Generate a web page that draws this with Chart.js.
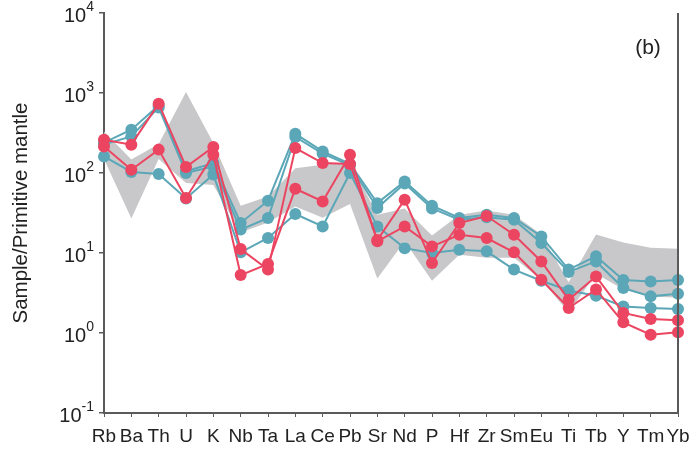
<!DOCTYPE html>
<html>
<head>
<meta charset="utf-8">
<script src="https://cdn.jsdelivr.net/npm/chart.js@4"></script>
<style>
html,body{margin:0;padding:0;background:#fff;}
#wrap{width:694px;height:455px;position:relative;}
</style>
</head>
<body>
<div id="wrap"><canvas id="c" width="694" height="455"></canvas></div>
<script>
const categories = ['Rb','Ba','Th','U','K','Nb','Ta','La','Ce','Pb','Sr','Nd','P','Hf','Zr','Sm','Eu','Ti','Tb','Y','Tm','Yb'];
const tealA = [240, 348, 700, 105, 133, 23.7, 45, 309, 186, 130, 42, 78.5, 39, 27.4, 30, 27.4, 16.1, 6.2, 9.1, 4.6, 4.4, 4.6];
const tealB = [228, 287, 660, 100, 121, 19.6, 27.4, 282, 175, 125, 36.5, 74, 36, 26, 28, 26, 13.3, 5.8, 7.85, 3.65, 2.87, 3.1];
const tealC = [161, 103, 97, 48, 95.5, 10.2, 15.4, 30.7, 21.5, 100, 21.5, 11.5, 10, 11, 10.5, 6.2, 4.5, 3.4, 2.92, 2.15, 2.05, 2.0];
const redA = [261, 226, 735, 119, 212, 11.2, 6.2, 205, 133, 130, 14.5, 46.4, 7.5, 23.7, 29, 16.9, 7.85, 2.6, 5.1, 1.78, 1.5, 1.44];
const redB = [215, 110, 196, 48.7, 169, 5.3, 7.3, 63.6, 44, 169, 14, 21.5, 12.1, 16.9, 15.4, 10.2, 4.64, 2.05, 3.5, 1.36, 0.95, 1.02];
const envelopeUpper = [330, 148, 230, 1030, 237, 39, 51, 115, 127, 137, 30, 36, 16.5, 30, 34, 30, 17, 4.3, 17, 13.5, 11.6, 11.3];
const envelopeLower = [150, 27, 150, 75, 71, 18, 24, 38, 27.5, 41, 4.8, 14, 4.5, 9.5, 8.7, 8.7, 4.6, 1.8, 5.5, 3.5, 2.85, 2.75];
const yTicks = [0.1, 1, 10, 100, 1000, 10000];
const yTitle = 'Sample/Primitive mantle';
const panelLabel = '(b)';

const TEAL = '#5ba7b8';
const RED = '#ec4561';
const GRAY = '#c8c8ca';
const AXIS = '#5a5a5a';
const FONT = '"Liberation Sans", Arial, sans-serif';

function lineDs(data, color, order) {
  return {
    data: data, borderColor: color, backgroundColor: color,
    borderWidth: 2, pointRadius: 6, pointHoverRadius: 6,
    pointBorderWidth: 0, pointBackgroundColor: color,
    fill: false, tension: 0, order: order
  };
}

const decor = {
  id: 'decor',
  afterDraw(chart) {
    const ctx = chart.ctx;
    const ca = chart.chartArea;
    const ys = chart.scales.y;
    ctx.save();
    ctx.strokeStyle = AXIS;
    ctx.lineWidth = 2;
    ctx.beginPath();
    ctx.moveTo(ca.right, ca.top);
    ctx.lineTo(ca.right, ca.bottom);
    ctx.stroke();
    ctx.fillStyle = '#222';
    ctx.textBaseline = 'middle';
    yTicks.forEach(v => {
      const y = ys.getPixelForValue(v);
      const exp = String(Math.round(Math.log10(v)));
      ctx.font = '14px ' + FONT;
      const ew = ctx.measureText(exp).width;
      const xr = ca.left - 10;
      ctx.textAlign = 'left';
      ctx.fillText(exp, xr - ew, y - 6);
      ctx.font = '20px ' + FONT;
      ctx.textAlign = 'right';
      ctx.fillText('10', xr - ew, y + 3);
    });
    ctx.save();
    ctx.translate(21, (ca.top + ca.bottom) / 2);
    ctx.rotate(-Math.PI / 2);
    ctx.textAlign = 'center';
    ctx.textBaseline = 'middle';
    ctx.font = '20.5px ' + FONT;
    ctx.fillText(yTitle, 0, 0);
    ctx.restore();
    ctx.font = '21px ' + FONT;
    ctx.textAlign = 'center';
    ctx.textBaseline = 'middle';
    ctx.fillText(panelLabel, 648, 48);
    ctx.restore();
  }
};

new Chart(document.getElementById('c'), {
  type: 'line',
  data: {
    labels: categories,
    datasets: [
      lineDs(redA, RED, 0),
      lineDs(redB, RED, 0),
      lineDs(tealA, TEAL, 1),
      lineDs(tealB, TEAL, 1),
      lineDs(tealC, TEAL, 1),
      { data: envelopeUpper, borderWidth: 0, borderColor: 'rgba(0,0,0,0)', pointRadius: 0,
        backgroundColor: GRAY, fill: '+1', tension: 0, order: 10 },
      { data: envelopeLower, borderWidth: 0, borderColor: 'rgba(0,0,0,0)', pointRadius: 0,
        backgroundColor: GRAY, fill: false, tension: 0, order: 10 }
    ]
  },
  options: {
    responsive: false,
    animation: false,
    devicePixelRatio: 1,
    layout: { padding: { left: 0, right: 16, top: 13, bottom: 0 } },
    plugins: { legend: { display: false }, tooltip: { enabled: false }, filler: { propagate: false } },
    scales: {
      x: {
        type: 'category',
        offset: false,
        grid: { display: true, drawOnChartArea: false, drawTicks: true, tickLength: 4, color: AXIS, lineWidth: 1, offset: false },
        border: { display: true, color: AXIS, width: 2 },
        ticks: { color: '#222', font: { family: FONT, size: 19 }, padding: 8, autoSkip: false, maxRotation: 0 },
        afterFit(s) { s.height = 455 - 413; s.paddingLeft = 0; s.paddingRight = 0; }
      },
      y: {
        type: 'logarithmic',
        min: 0.1, max: 10000,
        grid: { display: true, drawOnChartArea: false, drawTicks: true, tickLength: 5, color: AXIS, lineWidth: 1.5 },
        border: { display: true, color: AXIS, width: 2 },
        ticks: { display: false },
        afterBuildTicks(s) { s.ticks = yTicks.map(v => ({ value: v, major: true })); },
        afterFit(s) { s.width = 104; s.paddingTop = 0; s.paddingBottom = 0; }
      }
    }
  },
  plugins: [decor]
});
</script>
</body>
</html>
